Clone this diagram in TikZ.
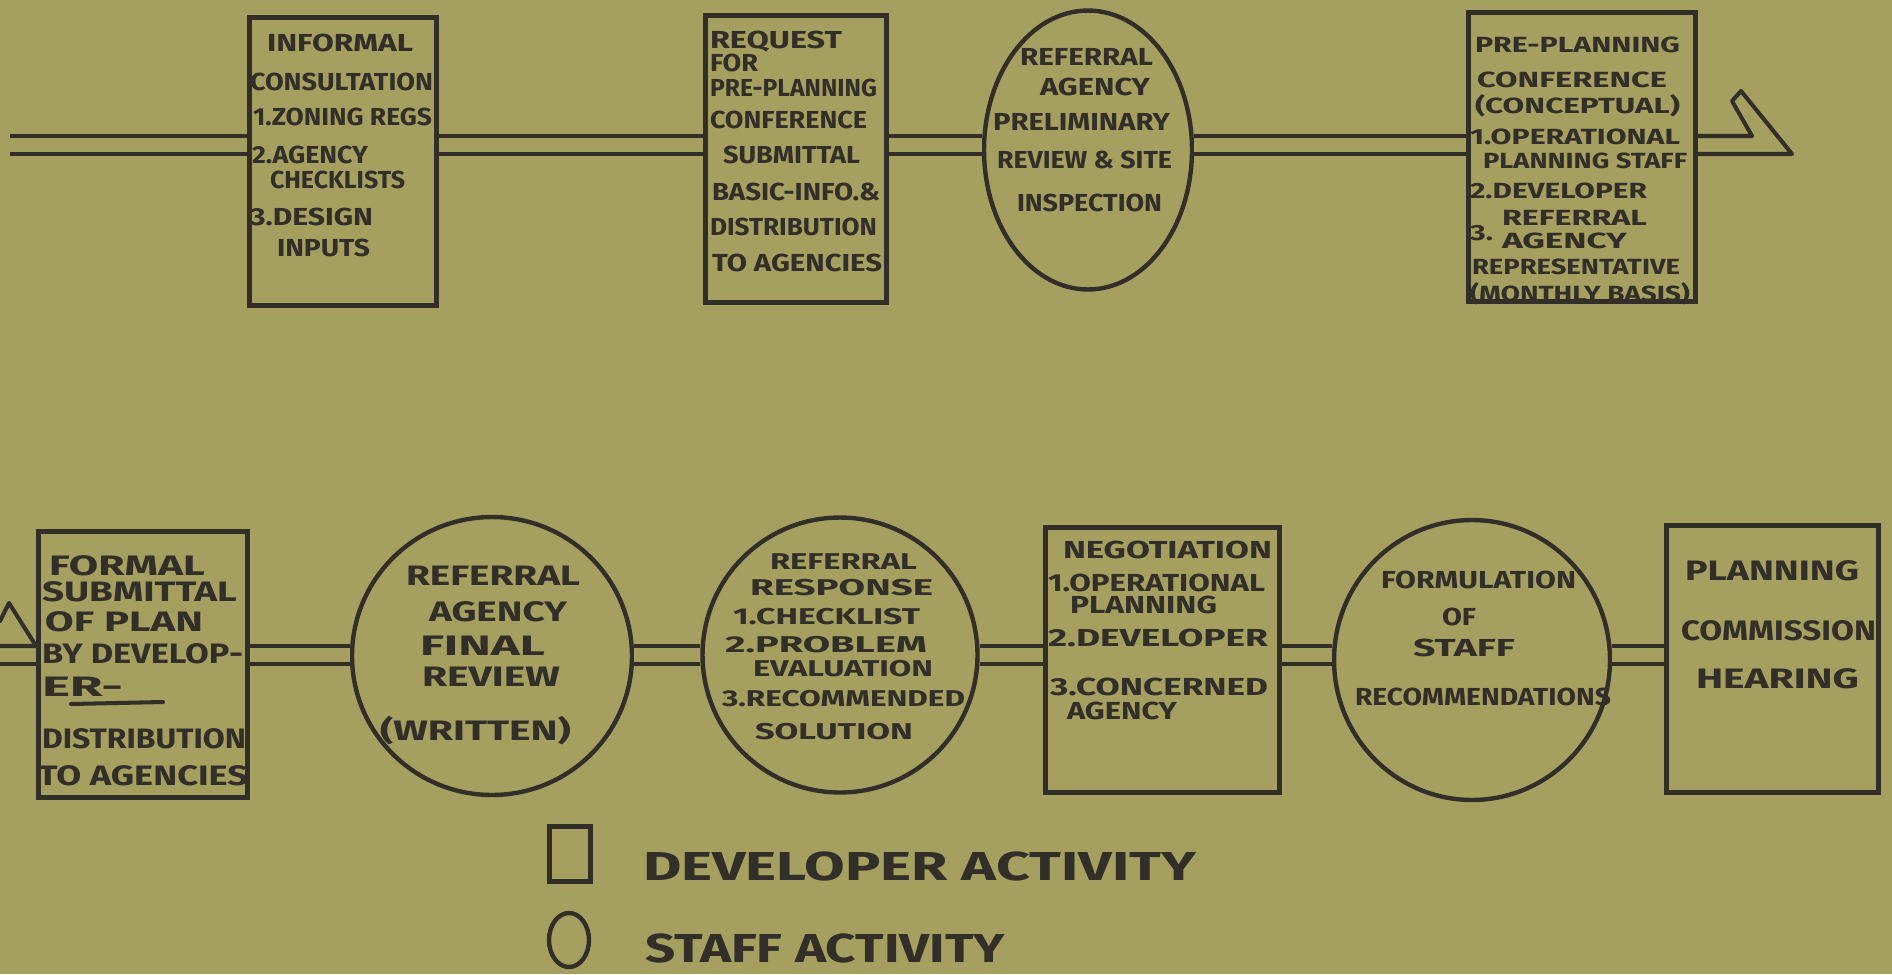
\documentclass[tikz,border=0pt]{standalone}
\usepackage{fontspec}
\setmainfont{Fira Sans}
\usetikzlibrary{shapes.geometric}
\definecolor{paper}{RGB}{165,159,96}
\definecolor{ink}{RGB}{50,46,40}
\newcommand\hwline[6][lbl]{%
  \pgfmathsetmacro\hwwidth{(#4-#3)*0.02}%
  \node[#1] (#2) at (#3,#5) {\resizebox{\hwwidth cm}{\height}{#6}};}
\begin{document}
\begin{tikzpicture}[x=0.02cm,y=-0.02cm,
  lbl/.style={anchor=base west,inner sep=0pt,outer sep=0pt,text=ink,
    font=\bfseries\fontsize{14}{14}\selectfont,yshift=-0.17cm},
  sml/.style={lbl,font=\bfseries\fontsize{12.5}{12.5}\selectfont,yshift=-0.15cm},
  tgt/.style={lbl,font=\bfseries\fontsize{13}{13}\selectfont,yshift=-0.155cm},
  mid/.style={lbl,font=\bfseries\fontsize{16}{16}\selectfont,yshift=-0.19cm},
  big/.style={lbl,font=\bfseries\fontsize{23}{23}\selectfont,yshift=-0.28cm},
  devbox/.style={draw=ink,line width=2.8pt,rectangle,inner sep=0pt},
  staffcirc/.style={draw=ink,line width=2.5pt,ellipse,inner sep=0pt},
  dbl/.style={draw=ink,line width=2.2pt,double=paper,double distance=7.9pt},
  inkline/.style={draw=ink,line width=2.3pt,line cap=round,line join=round}]
\fill[paper] (0,0) rectangle (1892,974);
\useasboundingbox (0,0) rectangle (1892,974);

% ---------- shapes, top row
\node[devbox,minimum width=3.74cm,minimum height=5.76cm] (b1) at (343,161.5) {};
\node[devbox,minimum width=3.62cm,minimum height=5.74cm] (b2) at (796,159) {};
\node[staffcirc,minimum width=4.16cm,minimum height=5.58cm] (c1) at (1088,150) {};
\node[devbox,minimum width=4.54cm,minimum height=5.78cm] (b4) at (1582,157) {};
% ---------- shapes, bottom row
\node[devbox,minimum width=4.18cm,minimum height=5.32cm] (b5) at (143,664.5) {};
\node[staffcirc,minimum width=5.60cm,minimum height=5.56cm] (c2) at (492,656) {};
\node[staffcirc,minimum width=5.50cm,minimum height=5.50cm] (c3) at (840,655) {};
\node[devbox,minimum width=4.68cm,minimum height=5.30cm] (b6) at (1162.5,660) {};
\node[staffcirc,minimum width=5.52cm,minimum height=5.60cm] (c4) at (1472,660) {};
\node[devbox,minimum width=4.24cm,minimum height=5.34cm] (b7) at (1772.5,659) {};

% ---------- connectors
\coordinate (rowA) at (0,145);
\coordinate (rowB) at (0,655);
\coordinate (startA) at (10,145);
\draw[dbl] (startA) -- (b1.west |- rowA);
\draw[dbl] (b1.east |- rowA) -- (b2.west |- rowA);
\draw[dbl] (b2.east |- rowA) -- (c1.west |- rowA);
\draw[dbl] (c1.east |- rowA) -- (b4.west |- rowA);
\coordinate (arTop) at (1752,136);
\coordinate (arIn) at (1732,101);
\coordinate (arCap) at (1741,91);
\coordinate (arTip) at (1792,154);
\draw[inkline] (b4.east |- arTop) -- (arTop) -- (arIn) -- (arCap) -- (arTip) -- (b4.east |- arTip);

\coordinate (frA) at (0,621);
\coordinate (frCap) at (9,603);
\coordinate (frTip) at (34,646);
\coordinate (frEnd) at (0,646);
\coordinate (frLow) at (0,664);
\draw[inkline] (frA) -- (frCap) -- (b5.west |- frTip) -- (frEnd);
\draw[inkline] (frLow) -- (b5.west |- frLow);
\draw[dbl] (b5.east |- rowB) -- (c2.west |- rowB);
\draw[dbl] (c2.east |- rowB) -- (c3.west |- rowB);
\draw[dbl] (c3.east |- rowB) -- (b6.west |- rowB);
\draw[dbl] (b6.east |- rowB) -- (c4.west |- rowB);
\draw[dbl] (c4.east |- rowB) -- (b7.west |- rowB);

% ---------- texts
\hwline{t1a}{267}{413}{43}{INFORMAL}
\hwline{t1b}{250}{433}{82}{CONSULTATION}
\hwline{t1c}{253}{432}{117}{1.ZONING REGS}
\hwline{t1d}{252}{368}{155}{2.AGENCY}
\hwline{t1e}{270}{405}{180}{CHECKLISTS}
\hwline{t1f}{250}{373}{217}{3.DESIGN}
\hwline{t1g}{277}{370}{248}{INPUTS}

\hwline{t2a}{710}{842}{40}{REQUEST}
\hwline{t2b}{710}{758}{63}{FOR}
\hwline{t2c}{710}{877}{88}{PRE-PLANNING}
\hwline{t2d}{710}{867}{120}{CONFERENCE}
\hwline{t2e}{723}{860}{155}{SUBMITTAL}
\hwline{t2f}{712}{880}{192}{BASIC-INFO.\&}
\hwline{t2g}{710}{877}{227}{DISTRIBUTION}
\hwline{t2h}{712}{882}{263}{TO AGENCIES}

\hwline{t3a}{1020}{1153}{57}{REFERRAL}
\hwline{t3b}{1040}{1150}{87}{AGENCY}
\hwline{t3c}{993}{1170}{122}{PRELIMINARY}
\hwline{t3d}{997}{1172}{160}{REVIEW \& SITE}
\hwline{t3e}{1017}{1162}{203}{INSPECTION}

\hwline[sml]{t4a}{1475}{1680}{37}{PRE-PLANNING}
\hwline[sml]{t4b}{1477}{1667}{72}{CONFERENCE}
\hwline[sml]{t4c}{1475}{1680}{98}{(CONCEPTUAL)}
\hwline[sml]{t4d}{1470}{1680}{128}{1.OPERATIONAL}
\hwline[sml]{t4e}{1483}{1687}{152}{PLANNING STAFF}
\hwline[sml]{t4f}{1470}{1647}{182}{2.DEVELOPER}
\hwline[sml]{t4g}{1470}{1493}{224}{3.}
\hwline[sml]{t4h}{1502}{1647}{209}{REFERRAL}
\hwline[sml]{t4i}{1502}{1627}{232}{AGENCY}
\hwline[sml]{t4j}{1472}{1680}{258}{REPRESENTATIVE}
\hwline[sml]{t4k}{1470}{1690}{285}{(MONTHLY BASIS)}

\hwline[mid]{t5a}{49}{205}{557}{FORMAL}
\hwline[mid]{t5b}{42}{237}{583}{SUBMITTAL}
\hwline[mid]{t5c}{45}{203}{613}{OF PLAN}
\hwline[mid]{t5d}{42}{243}{645}{BY DEVELOP-}
\hwline[mid]{t5e}{42}{123}{678}{ER-}
\hwline[mid]{t5f}{42}{246}{730}{DISTRIBUTION}
\hwline[mid]{t5g}{38}{248}{767}{TO AGENCIES}
\coordinate (ulA) at (71,704);
\coordinate (ulB) at (163,702);
\draw[inkline] (ulA) -- (ulB);

\hwline[mid]{t6a}{406}{580}{567}{REFERRAL}
\hwline[mid]{t6b}{429}{567}{603}{AGENCY}
\hwline[mid]{t6c}{420}{545}{637}{FINAL}
\hwline[mid]{t6d}{422}{560}{668}{REVIEW}
\hwline[mid]{t6e}{380}{571}{722}{(WRITTEN)}

\hwline[tgt]{t7a}{770}{917}{553}{REFERRAL}
\hwline[tgt]{t7b}{750}{933}{579}{RESPONSE}
\hwline[tgt]{t7c}{733}{920}{608}{1.CHECKLIST}
\hwline[tgt]{t7d}{725}{927}{636}{2.PROBLEM}
\hwline[tgt]{t7e}{753}{933}{660}{EVALUATION}
\hwline[tgt]{t7f}{722}{965}{690}{3.RECOMMENDED}
\hwline[tgt]{t7g}{755}{913}{723}{SOLUTION}

\hwline{t8a}{1063}{1272}{550}{NEGOTIATION}
\hwline{t8b}{1048}{1265}{583}{1.OPERATIONAL}
\hwline{t8c}{1070}{1217}{605}{PLANNING}
\hwline{t8d}{1048}{1268}{638}{2.DEVELOPER}
\hwline{t8e}{1050}{1268}{687}{3.CONCERNED}
\hwline{t8f}{1067}{1177}{711}{AGENCY}

\hwline{t9a}{1381}{1576}{580}{FORMULATION}
\hwline{t9b}{1442}{1476}{617}{OF}
\hwline{t9c}{1413}{1515}{648}{STAFF}
\hwline{t9d}{1355}{1611}{697}{RECOMMENDATIONS}

\hwline[mid]{t10a}{1685}{1859}{562}{PLANNING}
\hwline[mid]{t10b}{1681}{1876}{622}{COMMISSION}
\hwline[mid]{t10c}{1696}{1859}{670}{HEARING}

% ---------- legend
\node[devbox,minimum width=0.82cm,minimum height=1.10cm] (lgsq) at (570,854) {};
\node[staffcirc,minimum width=0.80cm,minimum height=1.08cm] (lgci) at (569,940) {};
\hwline[big]{t11a}{643}{1196}{858}{DEVELOPER ACTIVITY}
\hwline[big]{t11b}{645}{1005}{940}{STAFF ACTIVITY}
\end{tikzpicture}
\end{document}
